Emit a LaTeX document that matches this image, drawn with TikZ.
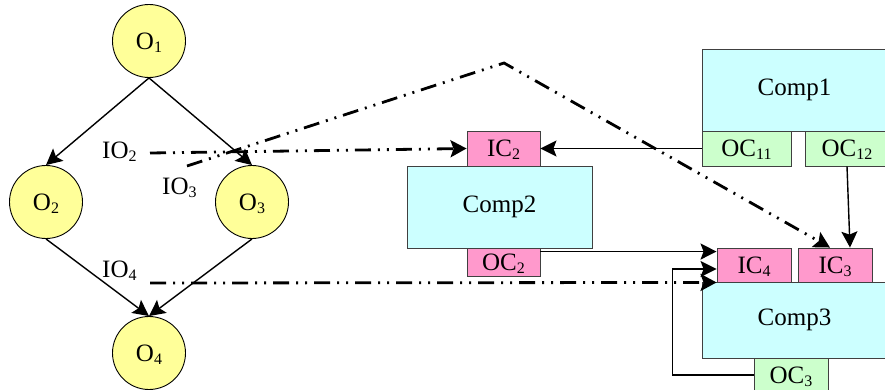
\documentclass[tikz,border=0pt]{standalone}
\usepackage{fontspec}
\setmainfont{Liberation Serif}
\usetikzlibrary{arrows.meta,calc}
\newcommand{\sbs}[1]{\raisebox{-3pt}[0pt][0pt]{\fontsize{16}{16}\selectfont #1}}
\definecolor{objyellow}{HTML}{FFFF99}
\definecolor{compcyan}{HTML}{CCFFFF}
\definecolor{icpink}{HTML}{FF99CC}
\definecolor{ocgreen}{HTML}{CCFFCC}
\definecolor{boxgray}{HTML}{404040}
\begin{document}
\begin{tikzpicture}[x=1pt,y=-1pt,font=\fontsize{25}{29}\selectfont,
  obj/.style={circle,draw=black,line width=0.9pt,fill=objyellow,minimum size=73pt,inner sep=0pt},
  boxbase/.style={rectangle,draw=boxgray,line width=0.9pt,inner sep=0pt},
  comp/.style={boxbase,fill=compcyan},
  icbox/.style={boxbase,fill=icpink},
  ocbox/.style={boxbase,fill=ocgreen},
  arr/.style={-{Stealth[length=16pt,width=16pt,inset=3pt]},line width=1.4pt},
  io/.style={line width=2.8pt,dash pattern=on 16pt off 7pt on 2pt off 7pt on 2pt off 7pt,
             -{Stealth[length=16pt,width=17pt,inset=3pt]}},
  lbl/.style={anchor=base west,inner sep=0pt}]
\useasboundingbox (0,0) rectangle (885,390);
% objects
\node[obj] (o1) at (149,41) {O\sbs{1}};
\node[obj] (o2) at (46,202) {O\sbs{2}};
\node[obj] (o3) at (252,202) {O\sbs{3}};
\node[obj] (o4) at (149,353) {O\sbs{4}};
% components
\node[comp,minimum width=185pt,minimum height=82pt] (c1) at (794.5,90) {Comp1};
\node[ocbox,minimum width=89pt,minimum height=35pt] (oc11) at (746.5,148.5) {OC\sbs{11}};
\node[ocbox,minimum width=84pt,minimum height=35pt] (oc12) at (847,148.5) {OC\sbs{12}};
\node[icbox,minimum width=73pt,minimum height=35pt] (ic2) at (503.5,148.5) {IC\sbs{2}};
\node[comp,minimum width=185pt,minimum height=82pt] (c2) at (499.5,207) {Comp2};
\node[icbox,minimum width=73pt,minimum height=28pt] (oc2) at (503.5,262) {OC\sbs{2}};
\node[icbox,minimum width=74pt,minimum height=34pt] (ic4) at (754,265) {IC\sbs{4}};
\node[icbox,minimum width=74pt,minimum height=34pt] (ic3) at (835,265) {IC\sbs{3}};
\node[comp,minimum width=185pt,minimum height=76pt] (c3) at (794.5,320) {Comp3};
\node[ocbox,minimum width=74pt,minimum height=34pt] (oc3) at (791,375) {OC\sbs{3}};
% labels
\node[lbl] (io2) at (102,159) {IO\sbs{2}};
\node[lbl] (io3) at (162,194) {IO\sbs{3}};
\node[lbl] (io4) at (102,277) {IO\sbs{4}};
% object arrows
\draw[arr] (o1.south) -- (o2.north);
\draw[arr] (o1.south) -- (o3.north);
\draw[arr] (o2.south) -- (o4.north);
\draw[arr] (o3.south) -- (o4.north);
% component arrows
\draw[arr] (oc11.west) -- (ic2.east);
\draw[arr] (oc12.south) -- ($(ic3.north)+(15,0)$);
\draw[arr] ($(oc2.north east)+(0,4)$) -- ($(ic4.north west)+(0,4)$);
\draw[arr] (oc3.west) -- ++(-81,0) |- ($(ic4.west)+(0,4)$);
% interaction lines
\coordinate (s2) at (150,153);
\coordinate (s3) at (187,166);
\coordinate (p3) at (504,63);
\coordinate (s4) at (150,283);
\draw[io] (s2) -- (ic2.west);
\draw[io] (s3) -- (p3) -- ($(ic3.north)+(-5,0)$);
\draw[io] (s4) -- (ic4.south west);
\end{tikzpicture}
\end{document}
